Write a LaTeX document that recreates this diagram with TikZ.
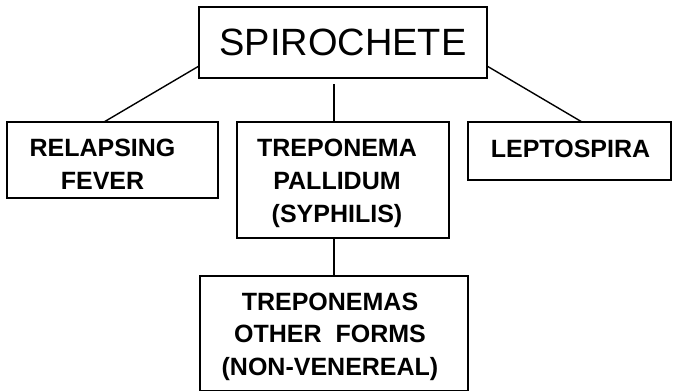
\documentclass[tikz,border=0pt]{standalone}
\usepackage{fontspec}
\setmainfont{Liberation Sans}
\usetikzlibrary{positioning}
\tikzset {
  box/.style = {
    draw = black,
    line width = 1.5pt,
    rectangle,
    inner sep = 0,
    outer sep = 0
  },
  % top box
  head/.style = {
    box,
    font = \fontsize{38}{40}\selectfont,
    minimum width = 288pt,
    minimum height = 71pt
  },
  % text of the lower boxes, placed by its last line
  txt/.style = {
    font = \bfseries\fontsize{25}{32.6}\selectfont,
    align = center,
    inner sep = 0,
    anchor = base
  },
  link/.style = {
    draw = black,
    line width = 1.4pt
  },
  node distance = 19pt
}

\begin{document}
\begin{tikzpicture}
  \useasboundingbox (0pt,0pt) rectangle (673pt,-391pt);

  \node[head] (spiro) at (343pt,-42.5pt) {SPIROCHETE};
  \node[box, minimum width = 212pt, minimum height = 116pt] (pallidum) [below=44pt of spiro] {};
  \node[box, minimum width = 211pt, minimum height = 76pt] (fever) [left=of pallidum.north west, anchor=north east] {};
  \node[box, minimum width = 203pt, minimum height = 58pt] (lepto) [right=of pallidum.north east, anchor=north west] {};
  \node[box, minimum width = 268pt, minimum height = 115pt] (other) [below=38pt of pallidum, xshift=-9pt] {};

  \node[txt] (fever-text) at ([xshift=-10pt, yshift=-67pt]fever.north) {RELAPSING\\FEVER};
  \node[txt] (pallidum-text) at ([xshift=-6pt, yshift=-100pt]pallidum.north) {TREPONEMA\\PALLIDUM\\(SYPHILIS)};
  \node[txt] (lepto-text) at ([xshift=1pt, yshift=-35pt]lepto.north) {LEPTOSPIRA};
  \node[txt] (other-text) at ([xshift=-4pt, yshift=-99.5pt]other.north) {TREPONEMAS\\OTHER\ \ FORMS\\(NON-VENEREAL)};

  \draw[link] ([yshift=-23.5pt]spiro.west) -- ([xshift=-8.5pt]fever.north);
  \draw[link] ([yshift=-23.5pt]spiro.east) -- ([xshift=12.5pt]lepto.north);
  \draw[link] ([xshift=-9pt, yshift=-6pt]spiro.south) -- ([xshift=-9pt]pallidum.north);
  \draw[link] ([xshift=-9pt]pallidum.south) -- (other.north);

\end{tikzpicture}
\end{document}
